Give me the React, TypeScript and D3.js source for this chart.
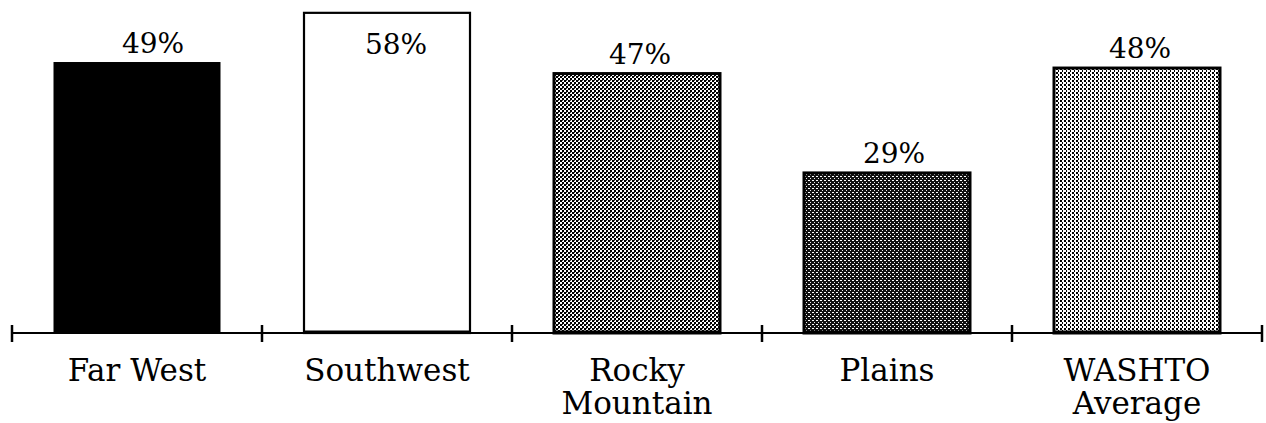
import React from "react";
import * as d3 from "d3";

// Share of respondents by region
const categories: string[][] = [
  ["Far West"],
  ["Southwest"],
  ["Rocky", "Mountain"],
  ["Plains"],
  ["WASHTO", "Average"],
];
const values: number[] = [49, 58, 47, 29, 48];

// bar fills and the small horizontal nudge of each value label
const fills: string[] = ["#000", "#fff", "url(#patRocky)", "url(#patPlains)", "url(#patWashto)"];
const labelDx: number[] = [16, 9, 3, 7, 3];

const W = 1266;
const H = 423;
const FONT = "'DejaVu Serif', 'Liberation Serif', serif";

export default function App() {
  const keys = categories.map((c) => c.join(" "));
  const x = d3
    .scaleBand<string>()
    .domain(keys)
    .range([12, 1262])
    .paddingInner(0.336)
    .paddingOuter(0.168);
  const y = d3.scaleLinear().domain([0, 60]).range([333, 1.8]);
  const base = y(0);
  const tickXs = d3.range(keys.length + 1).map((i) => x.range()[0] + i * x.step());
  const cx = (k: string) => (x(k) as number) + x.bandwidth() / 2;

  return (
    <svg
      width={W}
      height={H}
      style={{ position: "absolute", left: 0, top: 0, background: "#fff" }}
    >
      <defs>
        <pattern id="patRocky" width={4} height={4} patternUnits="userSpaceOnUse">
          <rect width={4} height={4} fill="#fff" />
          <rect x={0} y={0} width={2} height={2} fill="#000" />
          <rect x={2} y={2} width={2} height={2} fill="#000" />
          <rect x={2} y={0} width={1} height={1} fill="#444" />
        </pattern>
        <pattern id="patPlains" width={4} height={4} patternUnits="userSpaceOnUse">
          <rect width={4} height={4} fill="#111" />
          <rect x={0} y={0} width={2} height={1} fill="#fff" />
          <rect x={2} y={2} width={1} height={1} fill="#eee" />
        </pattern>
        <pattern id="patWashto" width={4} height={4} patternUnits="userSpaceOnUse">
          <rect width={4} height={4} fill="#fff" />
          <rect x={0} y={0} width={2} height={2} fill="#000" />
          <rect x={2} y={2} width={1} height={2} fill="#000" />
        </pattern>
      </defs>

      {/* bars */}
      {keys.map((k, i) => {
        const top = y(values[i]);
        return (
          <rect
            key={k}
            x={x(k)}
            y={top}
            width={x.bandwidth()}
            height={base - top}
            fill={fills[i]}
            stroke="#000"
            strokeWidth={i === 0 ? 1 : i === 1 ? 2.2 : 3}
          />
        );
      })}

      {/* value labels */}
      {keys.map((k, i) => {
        const top = y(values[i]);
        const inside = top - 36 < 0;
        return (
          <text
            key={k + "-v"}
            x={cx(k) + labelDx[i]}
            y={inside ? top + 41 : top - 10}
            textAnchor="middle"
            fontFamily={FONT}
            fontSize={28}
            fill="#000"
          >
            {values[i]}%
          </text>
        );
      })}

      {/* axis */}
      <line x1={tickXs[0]} x2={tickXs[tickXs.length - 1]} y1={base} y2={base} stroke="#000" strokeWidth={2} />
      {keys.map((k) => (
        <line
          key={k + "-bb"}
          x1={x(k)}
          x2={(x(k) as number) + x.bandwidth()}
          y1={base - 1}
          y2={base - 1}
          stroke="#000"
          strokeWidth={3}
        />
      ))}
      {tickXs.map((tx, i) => (
        <line key={"t" + i} x1={tx} x2={tx} y1={base - 8} y2={base + 9} stroke="#000" strokeWidth={2.5} />
      ))}

      {/* category labels */}
      {keys.map((k, i) => (
        <text
          key={k + "-c"}
          x={cx(k)}
          y={381}
          textAnchor="middle"
          fontFamily={FONT}
          fontSize={31}
          fill="#000"
        >
          {categories[i].map((line, j) => (
            <tspan key={j} x={cx(k)} dy={j === 0 ? 0 : 33}>
              {line}
            </tspan>
          ))}
        </text>
      ))}
    </svg>
  );
}
